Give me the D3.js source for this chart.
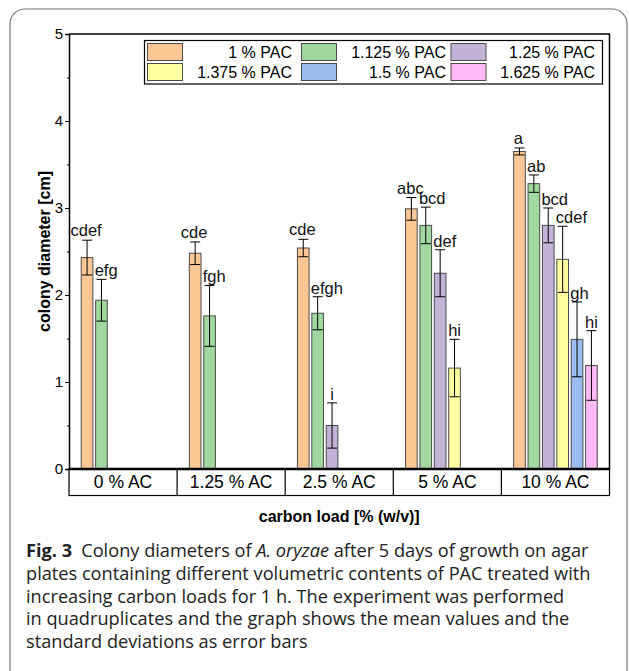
<!DOCTYPE html>
<html>
<head>
<meta charset="utf-8">
<script src="https://cdn.jsdelivr.net/npm/d3@7"></script>
<style>
  body { margin: 0; background: #fff; }
  svg { display: block; }
</style>
</head>
<body>
<div id="chart"></div>
<script>
// categories and series
var categories = ['0 % AC', '1.25 % AC', '2.5 % AC', '5 % AC', '10 % AC'];
var series = ['1 % PAC', '1.125 % PAC', '1.25 % PAC', '1.375 % PAC', '1.5 % PAC', '1.625 % PAC'];

// mean colony diameters [cm], null = not measured
var pac1    = [2.43, 2.48, 2.54, 2.99, 3.65];
var pac1125 = [1.94, 1.76, 1.79, 2.80, 3.28];
var pac125  = [null, null, 0.50, 2.25, 2.80];
var pac1375 = [null, null, null, 1.16, 2.41];
var pac15   = [null, null, null, null, 1.49];
var pac1625 = [null, null, null, null, 1.19];

// standard deviations
var sd1    = [0.20, 0.13, 0.10, 0.13, 0.04];
var sd1125 = [0.24, 0.35, 0.19, 0.21, 0.10];
var sd125  = [null, null, 0.26, 0.27, 0.20];
var sd1375 = [null, null, null, 0.33, 0.38];
var sd15   = [null, null, null, null, 0.43];
var sd1625 = [null, null, null, null, 0.40];

// significance letters
var let1    = ['cdef', 'cde', 'cde', 'abc', 'a'];
var let1125 = ['efg', 'fgh', 'efgh', 'bcd', 'ab'];
var let125  = [null, null, 'i', 'def', 'bcd'];
var let1375 = [null, null, null, 'hi', 'cdef'];
var let15   = [null, null, null, null, 'gh'];
var let1625 = [null, null, null, null, 'hi'];

var yTicks = [0, 1, 2, 3, 4, 5];
var yMinor = [0.5, 1.5, 2.5, 3.5, 4.5];

function draw() {
  var means = [pac1, pac1125, pac125, pac1375, pac15, pac1625];
  var sds = [sd1, sd1125, sd125, sd1375, sd15, sd1625];
  var lets = [let1, let1125, let125, let1375, let15, let1625];
  var colors = ['#fbc895', '#a0d8a0', '#c3b3d9', '#ffff9f', '#9bbcef', '#fdbaf6'];

  var width = 629, height = 671;
  var pLeft = 69, pRight = 609.5, pTop = 34, pBottom = 469;
  var font = 'Liberation Sans, Arial, sans-serif';

  var svg = d3.select('#chart').append('svg')
    .attr('width', width)
    .attr('height', height);

  svg.append('rect').attr('width', width).attr('height', height).attr('fill', '#fff');

  // outer rounded frame
  svg.append('rect')
    .attr('x', 10).attr('y', 9)
    .attr('width', 617).attr('height', 720)
    .attr('rx', 15)
    .attr('fill', 'none')
    .attr('stroke', '#777')
    .attr('stroke-width', 1.2);

  var y = d3.scaleLinear().domain([0, 5]).range([pBottom, pTop]);
  var x0 = d3.scaleBand().domain(categories).range([pLeft, pRight]);
  var x1 = d3.scaleBand().domain(d3.range(series.length))
    .range([0, x0.bandwidth()])
    .paddingInner(0.19)
    .paddingOuter(0.85);

  // rows of data
  var rows = [];
  categories.forEach(function (c, ci) {
    series.forEach(function (s, si) {
      if (means[si][ci] != null) {
        rows.push({ cat: c, s: si, v: means[si][ci], sd: sds[si][ci], lab: lets[si][ci] });
      }
    });
  });

  var g = svg.append('g');

  // bars
  g.selectAll('rect.bar')
    .data(rows)
    .enter()
    .append('rect')
    .attr('class', 'bar')
    .attr('x', function (d) { return x0(d.cat) + x1(d.s); })
    .attr('y', function (d) { return y(d.v); })
    .attr('width', x1.bandwidth())
    .attr('height', function (d) { return y(0) - y(d.v); })
    .attr('fill', function (d) { return colors[d.s]; })
    .attr('stroke', '#4a4a4a')
    .attr('stroke-width', 1);

  function cx(d) { return x0(d.cat) + x1(d.s) + x1.bandwidth() / 2; }
  var cap = 5;

  // error bars
  var eb = g.selectAll('g.err')
    .data(rows)
    .enter()
    .append('g')
    .attr('class', 'err')
    .attr('stroke', '#000')
    .attr('stroke-width', 1);
  eb.append('line')
    .attr('x1', cx).attr('x2', cx)
    .attr('y1', function (d) { return y(d.v + d.sd); })
    .attr('y2', function (d) { return y(d.v - d.sd); });
  eb.append('line')
    .attr('x1', function (d) { return cx(d) - cap; })
    .attr('x2', function (d) { return cx(d) + cap; })
    .attr('y1', function (d) { return y(d.v + d.sd); })
    .attr('y2', function (d) { return y(d.v + d.sd); });
  eb.append('line')
    .attr('x1', function (d) { return cx(d) - cap; })
    .attr('x2', function (d) { return cx(d) + cap; })
    .attr('y1', function (d) { return y(d.v - d.sd); })
    .attr('y2', function (d) { return y(d.v - d.sd); });

  // letters: first series centred, others pushed right so they stay clear of the left neighbour
  g.selectAll('text.lab')
    .data(rows)
    .enter()
    .append('text')
    .attr('class', 'lab')
    .attr('y', function (d) { return y(d.v + d.sd) - (d.s === 0 ? 4 : 3); })
    .style('font-family', font)
    .style('font-size', '16.5px')
    .attr('fill', '#111')
    .text(function (d) { return d.lab; })
    .attr('x', function (d) {
      var w = this.getComputedTextLength();
      var c = cx(d);
      if (d.s === 0) return c - w / 2 - 1;
      return Math.max(c - w / 2, x0(d.cat) + x1(d.s) - 1);
    });

  // plot frame (top, right)
  g.append('path')
    .attr('d', 'M' + pLeft + ',' + pTop + 'H' + pRight + 'V' + pBottom)
    .attr('fill', 'none')
    .attr('stroke', '#000')
    .attr('stroke-width', 1.5);

  // y axis
  var yAxis = d3.axisLeft(y).tickValues(yTicks).tickSize(4).tickPadding(2).tickFormat(d3.format('d'));
  var ya = svg.append('g').attr('transform', 'translate(' + pLeft + ',0)').call(yAxis);
  ya.select('.domain').attr('stroke', '#000').attr('stroke-width', 1.5);
  ya.selectAll('.tick text').style('font-family', font).style('font-size', '15px').attr('fill', '#000');
  var ym = svg.append('g').attr('transform', 'translate(' + pLeft + ',0)')
    .call(d3.axisLeft(y).tickValues(yMinor).tickSize(2).tickFormat(''));
  ym.select('.domain').remove();

  // category box under the plot
  var boxBottom = 495.5;
  var cb = svg.append('g');
  cb.append('rect')
    .attr('x', pLeft).attr('y', pBottom)
    .attr('width', pRight - pLeft).attr('height', boxBottom - pBottom)
    .attr('fill', 'none').attr('stroke', '#000').attr('stroke-width', 1.2);
  cb.selectAll('line.div')
    .data(categories.slice(1))
    .enter()
    .append('line')
    .attr('x1', function (d) { return x0(d); })
    .attr('x2', function (d) { return x0(d); })
    .attr('y1', pBottom).attr('y2', boxBottom)
    .attr('stroke', '#000').attr('stroke-width', 1.2);
  cb.selectAll('text')
    .data(categories)
    .enter()
    .append('text')
    .attr('x', function (d) { return x0(d) + x0.bandwidth() / 2; })
    .attr('y', 488)
    .attr('text-anchor', 'middle')
    .style('font-family', font)
    .style('font-size', '17.5px')
    .text(function (d) { return d; });

  // thick zero line
  svg.append('line')
    .attr('x1', pLeft).attr('x2', pRight)
    .attr('y1', pBottom).attr('y2', pBottom)
    .attr('stroke', '#000').attr('stroke-width', 2.5);

  // axis titles
  svg.append('text')
    .attr('transform', 'translate(50,' + (pTop + pBottom) / 2 + ') rotate(-90)')
    .attr('text-anchor', 'middle')
    .style('font-family', font)
    .style('font-size', '16px')
    .style('font-weight', 'bold')
    .text('colony diameter [cm]');

  svg.append('text')
    .attr('x', (pLeft + pRight) / 2)
    .attr('y', 522)
    .attr('text-anchor', 'middle')
    .style('font-family', font)
    .style('font-size', '16px')
    .style('font-weight', 'bold')
    .text('carbon load [% (w/v)]');

  // legend
  var lg = svg.append('g');
  lg.append('rect')
    .attr('x', 144.5).attr('y', 40.5)
    .attr('width', 458).attr('height', 43.5)
    .attr('fill', '#fff').attr('stroke', '#000').attr('stroke-width', 1.2);
  var colX = [147.5, 301.5, 451];
  var colEnd = [292, 446, 595];
  var item = lg.selectAll('g.item')
    .data(series)
    .enter()
    .append('g')
    .attr('class', 'item');
  item.append('rect')
    .attr('x', function (d, i) { return colX[i % 3]; })
    .attr('y', function (d, i) { return i < 3 ? 43.5 : 63.5; })
    .attr('width', 35).attr('height', 17)
    .attr('fill', function (d, i) { return colors[i]; })
    .attr('stroke', '#4a4a4a').attr('stroke-width', 1);
  item.append('text')
    .attr('x', function (d, i) { return colEnd[i % 3]; })
    .attr('y', function (d, i) { return i < 3 ? 58 : 78; })
    .attr('text-anchor', 'end')
    .style('font-family', font)
    .style('font-size', '16px')
    .text(function (d) { return d; });

  // caption
  var capFont = 'Open Sans, Noto Sans, sans-serif';
  var capSize = '18.2px';
  var cap1 = svg.append('text').attr('x', 26).attr('y', 557)
    .style('font-family', capFont).style('font-size', capSize).attr('fill', '#222');
  cap1.append('tspan').style('font-weight', 'bold').text('Fig. 3');
  cap1.append('tspan').text('\u2002Colony diameters of ');
  cap1.append('tspan').style('font-style', 'italic').text('A. oryzae');
  cap1.append('tspan').text(' after 5 days of growth on agar');

  var capLines = [
    'plates containing different volumetric contents of PAC treated with',
    'increasing carbon loads for 1 h. The experiment was performed',
    'in quadruplicates and the graph shows the mean values and the',
    'standard deviations as error bars'
  ];
  svg.selectAll('text.cap')
    .data(capLines)
    .enter()
    .append('text')
    .attr('class', 'cap')
    .attr('x', 26)
    .attr('y', function (d, i) { return 557 + 22.75 * (i + 1); })
    .style('font-family', capFont)
    .style('font-size', capSize)
    .attr('fill', '#222')
    .text(function (d) { return d; });
}
draw();
</script>
</body>
</html>
